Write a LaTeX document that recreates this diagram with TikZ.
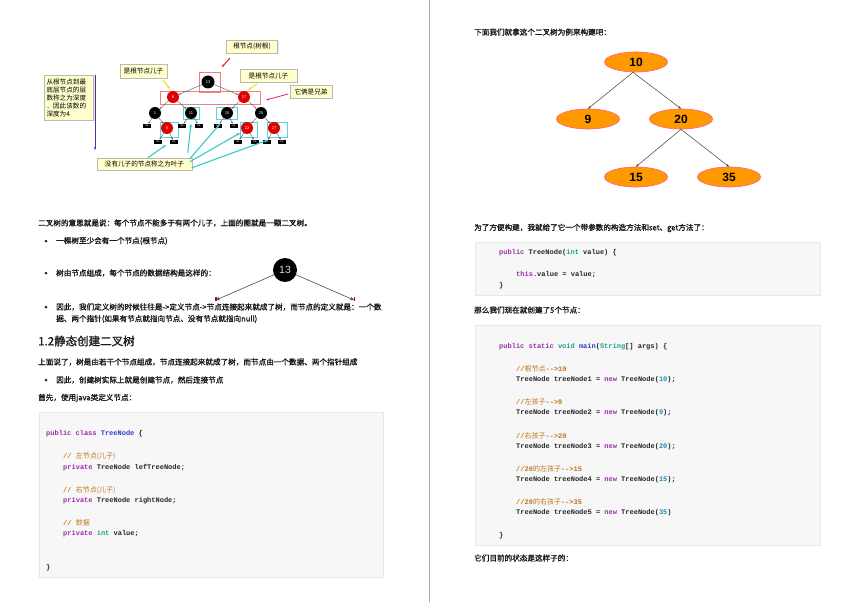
\documentclass[tikz,border=0pt]{standalone}
\usepackage{fontspec}
\setmainfont{Liberation Sans}
\newfontfamily\cjk[FakeBold=1.3]{Noto Sans CJK SC}
\newfontfamily\cjkn{Noto Sans CJK SC}
\newfontfamily\mono{Liberation Mono}
\usetikzlibrary{arrows.meta,shapes.geometric,shadows}
\definecolor{ckwc}{HTML}{9A2FA8}
\definecolor{ctyc}{HTML}{2B3FD1}
\definecolor{cnumc}{HTML}{1B8FB0}
\definecolor{ccmc}{HTML}{C0761A}
\definecolor{cintc}{HTML}{1E9E8C}
\definecolor{codebg}{HTML}{F7F7F7}
\definecolor{nodeorange}{HTML}{FF9900}
\definecolor{nodeedge}{HTML}{FF5C8A}
\definecolor{notefill}{HTML}{FFFFCC}
\definecolor{treered}{HTML}{E00000}
\definecolor{boxpink}{HTML}{F08080}
\definecolor{boxcyan}{HTML}{55D5E0}
\definecolor{arrcyan}{HTML}{33CCCC}
\definecolor{arrpurple}{HTML}{5A2C9A}
\definecolor{arryellow}{HTML}{E6E100}
\definecolor{arrmagenta}{HTML}{E0309A}
\newcommand{\ckw}[1]{\textcolor{ckwc}{#1}}
\newcommand{\cty}[1]{\textcolor{ctyc}{#1}}
\newcommand{\cnm}[1]{\textcolor{cnumc}{#1}}
\newcommand{\ccm}[1]{\textcolor{ccmc}{#1}}
\newcommand{\cin}[1]{\textcolor{cintc}{#1}}
\tikzset{
  txt/.style={anchor=west, inner sep=0, font=\cjk\fontsize{7.6}{9}\selectfont, text=black!90},
  head/.style={anchor=west, inner sep=0, font=\cjk\fontsize{11.5}{13}\selectfont, text=black!90},
  code/.style={anchor=west, inner sep=0, font=\mono\bfseries\fontsize{7}{8}\selectfont, text=black!85},
  codebox/.style={draw=gray!18, fill=codebg},
  bul/.style={circle, fill=black!85, inner sep=0, minimum size=3pt},
  bn/.style={circle, fill=black, inner sep=0, minimum size=12pt, font=\fontsize{4}{4}\selectfont, text=white},
  rn/.style={bn, fill=treered},
  nil/.style={fill=black, inner sep=0, minimum width=8pt, minimum height=4.5pt, font=\fontsize{2.4}{3}\selectfont, text=white},
  tedge/.style={draw=black!70, line width=0.35pt, -{Stealth[length=2pt,width=1.6pt]}},
  note/.style={draw=gray!55, fill=notefill, inner sep=1pt, font=\cjkn\fontsize{6.6}{8}\selectfont, drop shadow={opacity=0.25, shadow xshift=1pt, shadow yshift=-1pt}},
  callout/.style={line width=0.9pt, -{Stealth[length=3pt,width=2.5pt]}},
  ell/.style={ellipse, fill=nodeorange, draw=nodeedge, line width=0.6pt, minimum width=63pt, minimum height=20pt, inner sep=0, font=\bfseries\fontsize{12}{12}\selectfont},
  eedge/.style={draw=black!75, line width=0.5pt, -{Stealth[length=3pt,width=2.6pt]}},
  carrow/.style={draw=arrcyan, line width=1.1pt, -{Stealth[length=3.5pt,width=3pt]}}
}
\begin{document}
\begin{tikzpicture}[x=1pt,y=-1pt]
\useasboundingbox (0,0) rectangle (852,602);
\fill[white] (0,0) rectangle (852,602);
% divider
\draw[gray!70, line width=0.8pt] (429,0) -- (429,602);

% ===== top-left figure =====
\node[note, minimum width=49pt, minimum height=45pt, text width=45pt, align=left] (depth) at (69,97.5) {从根节点到最\\底层节点的层\\数称之为深度\\．因此该数的\\深度为4};
\coordinate (dtop) at (95,75);
\coordinate (dbot) at (95,150);
\draw[arrpurple, callout, line width=1pt] (dtop) -- (dbot);

\node[note, minimum width=51pt, minimum height=13pt] (rootnote) at (252,46.5) {根节点(树根)};
\node[note, minimum width=47pt, minimum height=14pt] (sonl) at (143.5,71) {是根节点儿子};
\node[note, minimum width=57pt, minimum height=13pt] (sonr) at (268.5,75.5) {是根节点儿子};
\node[note, minimum width=42pt, minimum height=13pt] (bro) at (311,91.5) {它俩是兄弟};
\node[note, minimum width=95pt, minimum height=12pt] (leaf) at (144.5,164) {没有儿子的节点称之为叶子};

% highlight boxes
\draw[boxpink, line width=0.7pt] (199,72) rectangle (220,92);
\draw[boxpink, line width=0.7pt] (160,91) rectangle (260,104);
\draw[boxcyan, line width=0.7pt] (183,107) rectangle (199,119);
\draw[boxcyan, line width=0.7pt] (216,107) rectangle (237,119);
\draw[boxcyan, line width=0.7pt] (160,122) rectangle (178,137);
\draw[boxcyan, line width=0.7pt] (240,122) rectangle (257,137);
\draw[boxcyan, line width=0.7pt] (267,122) rectangle (287,137);

% tree nodes
\node[bn, minimum size=13pt] (n13) at (208,82) {13};
\node[rn] (n8) at (173,97) {8};
\node[rn] (n17) at (244,97) {17};
\node[bn] (n1) at (155,113) {1};
\node[bn] (n11) at (191,113) {11};
\node[bn] (n15) at (227,113) {15};
\node[bn] (n25) at (261,113) {25};
\node[nil] (nilA) at (147,126) {NIL};
\node[rn] (n6) at (167,128) {6};
\node[nil] (nilB) at (182,126) {NIL};
\node[nil] (nilC) at (199,126) {NIL};
\node[nil] (nilD) at (218,126) {NIL};
\node[nil] (nilE) at (234,126) {NIL};
\node[rn] (n22) at (247,128) {22};
\node[rn] (n27) at (274,128) {27};
\node[nil] (nilF) at (158,142) {NIL};
\node[nil] (nilG) at (174,142) {NIL};
\node[nil] (nilH) at (238,142) {NIL};
\node[nil] (nilI) at (255,142) {NIL};
\node[nil] (nilJ) at (267,142) {NIL};
\node[nil] (nilK) at (282,142) {NIL};
\foreach \a/\b in {n13/n8,n13/n17,n8/n1,n8/n11,n17/n15,n17/n25,n1/nilA,n1/n6,n11/nilB,n11/nilC,n15/nilD,n15/nilE,n25/n22,n25/n27,n6/nilF,n6/nilG,n22/nilH,n22/nilI,n27/nilJ,n27/nilK}
  \draw[tedge] (\a) -- (\b);

% callout arrows
\coordinate (ra1) at (230,58); \coordinate (ra2) at (222,67);
\draw[red, callout] (ra1) -- (ra2);
\coordinate (ya1) at (163,80); \coordinate (ya2) at (170,89);
\draw[arryellow, callout] (ya1) -- (ya2);
\coordinate (yb1) at (257,84); \coordinate (yb2) at (248,90);
\draw[arryellow, callout] (yb1) -- (yb2);
\coordinate (ma1) at (288,94); \coordinate (ma2) at (266,100);
\draw[arrmagenta, callout] (ma1) -- (ma2);

\coordinate (ce1) at (166,145);
\coordinate (ce2) at (191,124);
\coordinate (ce3) at (220,124);
\coordinate (ce4) at (240,133);
\coordinate (ce5) at (268,140);
\draw[carrow] ([xshift=51pt]leaf.north west) -- (ce1);
\draw[carrow] ([xshift=91pt,yshift=5pt]leaf.north west) -- (ce2);
\draw[carrow] ([xshift=93pt,yshift=-1pt]leaf.north west) -- (ce3);
\draw[carrow] ([xshift=93pt,yshift=-4pt]leaf.north west) -- (ce4);
\draw[carrow] ([xshift=95pt,yshift=-10pt]leaf.north west) -- (ce5);

% ===== left text =====
\node[txt] (p1) at (38,223) {二叉树的意思就是说：每个节点不能多于有两个儿子，上面的图就是一颗二叉树。};
\node[bul] (b1) at (46,241) {};
\node[txt] (p2) at (56,241) {一棵树至少会有一个节点(根节点)};
\node[bul] (b2) at (46,273) {};
\node[txt] (p3) at (56,273) {树由节点组成，每个节点的数据结构是这样的：};
\node[circle, fill=black, inner sep=0, minimum size=24pt, text=white!85!black, font=\fontsize{10.5}{10.5}\selectfont] (big13) at (285,270) {13};
\coordinate (bl) at (216,300);
\coordinate (br) at (354,300);
\draw[draw=black!70, line width=0.6pt, -{Stealth[length=4pt,width=3.5pt]}] (big13) -- (bl);
\draw[draw=black!70, line width=0.6pt, -{Stealth[length=4pt,width=3.5pt]}] (big13) -- (br);
\fill[red!80!black] (215,297) rectangle (216.5,301);
\fill[red!80!black] (353.5,297) rectangle (355,301);
\node[bul] (b3) at (46,307) {};
\node[txt] (p4) at (56,307) {因此，我们定义树的时候往往是->定义节点->节点连接起来就成了树，而节点的定义就是：一个数};
\node[txt] (p5) at (56,319) {据、两个指针(如果有节点就指向节点、没有节点就指向null)};
\node[head] (h1) at (38,341) {1.2静态创建二叉树};
\node[txt] (p6) at (38,362) {上面说了，树是由若干个节点组成，节点连接起来就成了树，而节点由一个数据、两个指针组成};
\node[bul] (b4) at (46,380) {};
\node[txt] (p7) at (56,380) {因此，创建树实际上就是创建节点，然后连接节点};
\node[txt] (p8) at (38,398) {首先，使用java类定义节点：};

% left code
\draw[codebox] (39,412) rectangle (383,577);
\node[code] (l1) at (46,434) {\ckw{public class} \cty{TreeNode} \{};
\node[code] (l2) at (63,456) {\ccm{// {\cjkn\mdseries 左节点(儿子)}}};
\node[code] (l3) at (63,468) {\ckw{private} TreeNode lefTreeNode;};
\node[code] (l4) at (63,490) {\ccm{// {\cjkn\mdseries 右节点(儿子)}}};
\node[code] (l5) at (63,501) {\ckw{private} TreeNode rightNode;};
\node[code] (l6) at (63,523) {\ccm{// {\cjkn\mdseries 数据}}};
\node[code] (l7) at (63,534) {\ckw{private} \cin{int} value;};
\node[code] (l8) at (46,568) {\}};

% ===== right page =====
\node[txt] (q1) at (474,32) {下面我们就拿这个二叉树为例来构建吧：};
\node[ell] (t10) at (636,62) {10};
\node[ell] (t9) at (588,119) {9};
\node[ell] (t20) at (681,119) {20};
\node[ell] (t15) at (636,177) {15};
\node[ell] (t35) at (729,177) {35};
\draw[eedge] ([xshift=-3pt]t10.south) -- (t9.north);
\draw[eedge] ([xshift=-3pt]t10.south) -- (t20.north);
\draw[eedge] (t20.south) -- (t15.north);
\draw[eedge] (t20.south) -- (t35.north);

\node[txt] (q2) at (474,228) {为了方便构建，我就给了它一个带参数的构造方法和set、get方法了：};
\draw[codebox] (475,242) rectangle (820,295);
\node[code] (r1) at (499,253) {\ckw{public} TreeNode(\cin{int} value) \{};
\node[code] (r2) at (516,275) {\ckw{this}.value = value;};
\node[code] (r3) at (499,286) {\}};

\node[txt] (q3) at (474,310) {那么我们现在就创建了5个节点：};
\draw[codebox] (475,325) rectangle (820,545);
\node[code] (s1) at (499,347) {\ckw{public static} \cin{void} \cty{main}(\cin{String}[] args) \{};
\node[code] (s2) at (516,369) {\ccm{//{\cjkn\mdseries 根节点}-{}->10}};
\node[code] (s3) at (516,380) {TreeNode treeNode1 = \ckw{new} TreeNode(\cnm{10});};
\node[code] (s4) at (516,402) {\ccm{//{\cjkn\mdseries 左孩子}-{}->9}};
\node[code] (s5) at (516,413) {TreeNode treeNode2 = \ckw{new} TreeNode(\cnm{9});};
\node[code] (s6) at (516,436) {\ccm{//{\cjkn\mdseries 右孩子}-{}->20}};
\node[code] (s7) at (516,447) {TreeNode treeNode3 = \ckw{new} TreeNode(\cnm{20});};
\node[code] (s8) at (516,469) {\ccm{//20{\cjkn\mdseries 的左孩子}-{}->15}};
\node[code] (s9) at (516,480) {TreeNode treeNode4 = \ckw{new} TreeNode(\cnm{15});};
\node[code] (s10) at (516,502) {\ccm{//20{\cjkn\mdseries 的右孩子}-{}->35}};
\node[code] (s11) at (516,513) {TreeNode treeNode5 = \ckw{new} TreeNode(\cnm{35})};
\node[code] (s12) at (499,536) {\}};
\node[txt] (q4) at (474,558) {它们目前的状态是这样子的：};
\end{tikzpicture}
\end{document}
